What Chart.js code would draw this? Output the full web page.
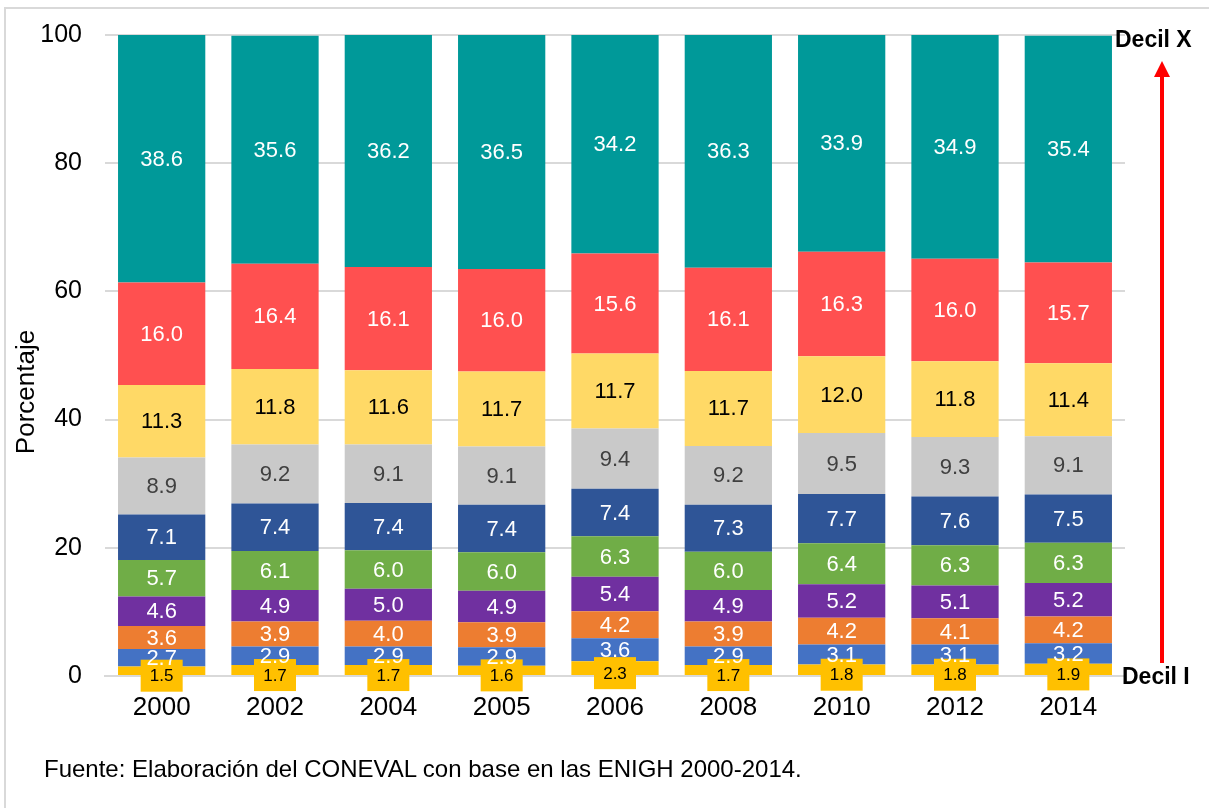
<!DOCTYPE html>
<html>
<head>
<meta charset="utf-8">
<script src="https://cdn.jsdelivr.net/npm/chart.js@4.4.1/dist/chart.umd.min.js"></script>
<style>
  body { margin: 0; background: #fff; }
  #wrap { position: relative; width: 1209px; height: 808px; overflow: hidden; }
  #frame { position: absolute; left: 4px; top: 7px; width: 1300px; height: 900px;
           border-left: 2px solid #d9d9d9; border-top: 2px solid #d9d9d9; }
  canvas { position: absolute; left: 0; top: 0; }
  #fuente { position: absolute; left: 44px; top: 755px; font: 24px "Liberation Sans", Arial, sans-serif; color: #000; white-space: nowrap; }
</style>
</head>
<body>
<div id="wrap">
  <div id="frame"></div>
  <canvas id="chart" width="1209" height="808"></canvas>
  <div id="fuente">Fuente: Elaboración del CONEVAL con base en las ENIGH 2000-2014.</div>
</div>
<script>
// años
const years = ["2000", "2002", "2004", "2005", "2006", "2008", "2010", "2012", "2014"];

// participación por decil (porcentaje)
const decil1  = [1.5, 1.7, 1.7, 1.6, 2.3, 1.7, 1.8, 1.8, 1.9];
const decil2  = [2.7, 2.9, 2.9, 2.9, 3.6, 2.9, 3.1, 3.1, 3.2];
const decil3  = [3.6, 3.9, 4.0, 3.9, 4.2, 3.9, 4.2, 4.1, 4.2];
const decil4  = [4.6, 4.9, 5.0, 4.9, 5.4, 4.9, 5.2, 5.1, 5.2];
const decil5  = [5.7, 6.1, 6.0, 6.0, 6.3, 6.0, 6.4, 6.3, 6.3];
const decil6  = [7.1, 7.4, 7.4, 7.4, 7.4, 7.3, 7.7, 7.6, 7.5];
const decil7  = [8.9, 9.2, 9.1, 9.1, 9.4, 9.2, 9.5, 9.3, 9.1];
const decil8  = [11.3, 11.8, 11.6, 11.7, 11.7, 11.7, 12.0, 11.8, 11.4];
const decil9  = [16.0, 16.4, 16.1, 16.0, 15.6, 16.1, 16.3, 16.0, 15.7];
const decil10 = [38.6, 35.6, 36.2, 36.5, 34.2, 36.3, 33.9, 34.9, 35.4];

const yTicks = [0, 20, 40, 60, 80, 100];

const FONT = "'Liberation Sans', Arial, sans-serif";

const series = [decil1, decil2, decil3, decil4, decil5, decil6, decil7, decil8, decil9, decil10];
const colores = ["#FFC000", "#4472C4", "#ED7D31", "#7030A0", "#70AD47",
                 "#2F5597", "#C9C9C9", "#FFD966", "#FF5050", "#009999"];
// color del texto de cada decil
const colorTexto = ["#000", "#fff", "#fff", "#fff", "#fff", "#fff", "#404040", "#000", "#fff", "#fff"];

/** etiquetas de valores sobre las barras */
const etiquetasPlugin = {
  id: "etiquetas",
  afterDatasetsDraw(chart) {
    const ctx = chart.ctx;
    ctx.save();
    ctx.textAlign = "center";
    ctx.textBaseline = "middle";
    chart.data.datasets.forEach((ds, i) => {
      const meta = chart.getDatasetMeta(i);
      meta.data.forEach((bar, j) => {
        const v = ds.data[j];
        const txt = v.toFixed(1);
        const cy = (bar.y + bar.base) / 2;
        if (i === 0) {
          // decil I: caja amarilla
          const yy = cy + 5;
          ctx.fillStyle = "#FFC000";
          ctx.fillRect(bar.x - 21, yy - 16, 42, 32);
          ctx.fillStyle = "#000";
          ctx.font = "17px " + FONT;
          ctx.fillText(txt, bar.x, yy + 1);
        } else {
          ctx.fillStyle = colorTexto[i];
          ctx.font = "22px " + FONT;
          ctx.fillText(txt, bar.x, cy + 1);
        }
      });
    });

    // título del eje y
    ctx.save();
    ctx.translate(27, 392);
    ctx.rotate(-Math.PI / 2);
    ctx.fillStyle = "#000";
    ctx.font = "26px " + FONT;
    ctx.textAlign = "center";
    ctx.fillText("Porcentaje", 0, 0);
    ctx.restore();

    // flecha y textos de deciles
    const ax = 1162;
    ctx.strokeStyle = "#FF0000";
    ctx.lineWidth = 4;
    ctx.beginPath();
    ctx.moveTo(ax, 663);
    ctx.lineTo(ax, 74);
    ctx.stroke();
    ctx.fillStyle = "#FF0000";
    ctx.beginPath();
    ctx.moveTo(ax, 61);
    ctx.lineTo(ax - 8, 77);
    ctx.lineTo(ax + 8, 77);
    ctx.closePath();
    ctx.fill();

    ctx.fillStyle = "#000";
    ctx.font = "bold 23px " + FONT;
    ctx.textAlign = "left";
    ctx.fillText("Decil X", 1115, 41);
    ctx.fillText("Decil I", 1122, 678);
    ctx.restore();
  }
};

const ctx = document.getElementById("chart").getContext("2d");
new Chart(ctx, {
  type: "bar",
  data: {
    labels: years,
    datasets: series.map((d, i) => ({
      label: "Decil " + (i + 1),
      data: d,
      backgroundColor: colores[i],
      borderWidth: 0,
      barPercentage: 0.77,
      categoryPercentage: 1
    }))
  },
  options: {
    responsive: false,
    animation: false,
    layout: { padding: { left: 10, top: 35, right: 84, bottom: 72 } },
    plugins: {
      legend: { display: false },
      tooltip: { enabled: false }
    },
    scales: {
      x: {
        stacked: true,
        grid: { display: false, drawTicks: false },
        border: { color: "#d9d9d9", width: 2 },
        ticks: { color: "#000", font: { family: FONT, size: 26 }, padding: 16, maxRotation: 0 },
        afterFit(scale) {
          scale.height = 60;
          scale.paddingLeft = 0;
          scale.paddingRight = 0;
        }
      },
      y: {
        stacked: true,
        min: 0,
        max: 100,
        afterBuildTicks(scale) { scale.ticks = yTicks.map((v) => ({ value: v })); },
        grid: { color: "#d9d9d9", lineWidth: 2, drawTicks: false },
        border: { display: false },
        ticks: { color: "#000", font: { family: FONT, size: 25 }, padding: 23 },
        afterFit(scale) {
          scale.width = 95;
          scale.paddingTop = 0;
          scale.paddingBottom = 0;
        }
      }
    }
  },
  plugins: [etiquetasPlugin]
});
</script>
</body>
</html>
